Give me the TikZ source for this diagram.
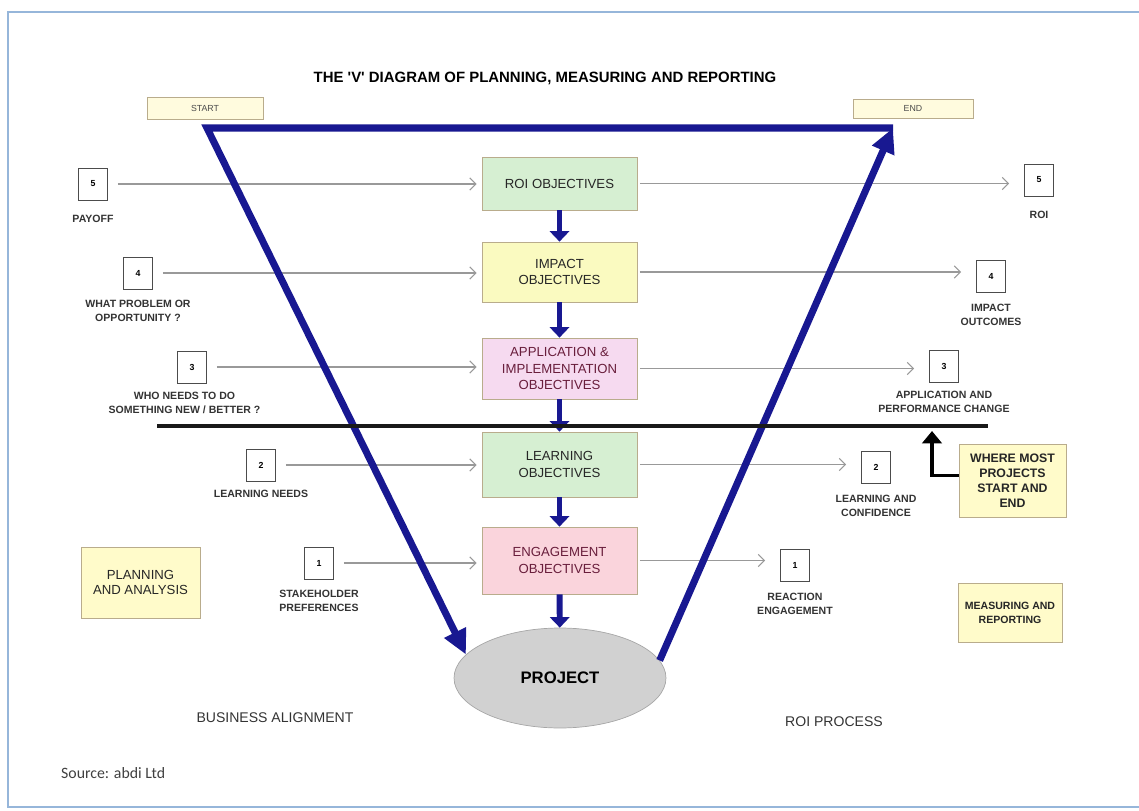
\documentclass[tikz,border=0pt]{standalone}
\usepackage{fontspec}
\setmainfont{Liberation Sans}
\newfontfamily\srcfont{Carlito}
\usetikzlibrary{arrows.meta,positioning,shapes.geometric}
\definecolor{vblue}{RGB}{24,24,145}
\definecolor{objgreen}{RGB}{214,239,210}
\definecolor{objyellow}{RGB}{250,250,192}
\definecolor{objlilac}{RGB}{246,218,240}
\definecolor{objpink}{RGB}{250,212,220}
\definecolor{notefill}{RGB}{255,251,202}
\definecolor{tagfill}{RGB}{255,251,222}
\definecolor{boxedge}{RGB}{185,172,140}
\definecolor{frameblue}{RGB}{150,182,218}
\definecolor{maroon}{RGB}{105,30,60}
\begin{document}
\begin{tikzpicture}[x=0.02cm, y=-0.02cm,
	obj/.style={draw=boxedge, minimum width=3.1cm, align=center, text=black!85, font=\fontsize{7.5}{9.5}\selectfont},
	numbox/.style={draw=black!70, minimum width=0.58cm, minimum height=0.64cm, inner sep=0pt, font=\fontsize{5}{6}\selectfont\bfseries},
	lbl/.style={align=center, text=black!80, font=\fontsize{6}{7.5}\selectfont\bfseries},
	tag/.style={draw=boxedge, fill=tagfill, inner sep=0pt, text=black!70, font=\fontsize{5}{6}\selectfont},
	note/.style={draw=boxedge, fill=notefill, align=center, inner sep=1pt, text=black!85},
	feed/.style={-{Straight Barb[length=3.5pt,width=7pt]}, black!40, line width=0.6pt},
	vline/.style={vblue, line width=4pt, line join=miter, -{Triangle[length=14pt,width=13pt]}},
	down/.style={vblue, line width=3.4pt, -{Triangle[length=6pt,width=11pt]}},
	plain/.style={text=black!80, font=\fontsize{8}{10}\selectfont}]
	\useasboundingbox (0,0) rectangle (1139,811);
	\draw[frameblue, line width=0.8pt] (1139,12) -- (8,12) -- (8,807) -- (1139,807);

	\node[font=\fontsize{8.5}{10}\selectfont\bfseries] (title) at (545,78) {THE \textquotesingle V\textquotesingle\ DIAGRAM OF PLANNING, MEASURING AND REPORTING};
	\node[tag, minimum width=2.32cm, minimum height=0.44cm] (start) at (205,108) {START};
	\node[tag, minimum width=2.4cm, minimum height=0.38cm] (end) at (913,108.5) {END};

	\node[obj, fill=objgreen, minimum height=1.06cm] (roi) at (559.5,183.5) {ROI OBJECTIVES};
	\node[obj, fill=objyellow, minimum height=1.2cm] (impact) at (559.5,272) {IMPACT\\OBJECTIVES};
	\node[obj, fill=objlilac, minimum height=1.22cm, text=maroon] (appl) at (559.5,368.5) {APPLICATION \&\\IMPLEMENTATION\\OBJECTIVES};
	\node[obj, fill=objgreen, minimum height=1.3cm] (learn) at (559.5,464.5) {LEARNING\\OBJECTIVES};
	\node[obj, fill=objpink, minimum height=1.34cm, text=maroon] (engage) at (559.5,560.5) {ENGAGEMENT\\OBJECTIVES};
	\node[ellipse, draw=black!35, fill=black!18, minimum width=4.24cm, minimum height=2cm, font=\fontsize{9.5}{11}\selectfont\bfseries] (project) at (560,678) {PROJECT};

	\node[numbox] (l5) at (93,184) {5};
	\node[numbox] (l4) at (138,273) {4};
	\node[numbox] (l3) at (192,367) {3};
	\node[numbox] (l2) at (261,465) {2};
	\node[numbox] (l1) at (319,563) {1};
	\node[lbl, below=0.17cm of l5] (payoff) {PAYOFF};
	\node[lbl, below=0.1cm of l4] (problem) {WHAT PROBLEM OR\\OPPORTUNITY ?};
	\node[lbl, below=0.06cm of l3, xshift=-0.15cm] (needs) {WHO NEEDS TO DO\\SOMETHING NEW / BETTER ?};
	\node[lbl, below=0.06cm of l2] (lneeds) {LEARNING NEEDS};
	\node[lbl, below=0.1cm of l1] (prefs) {STAKEHOLDER\\PREFERENCES};

	\node[numbox] (r5) at (1039,180) {5};
	\node[numbox] (r4) at (991,276) {4};
	\node[numbox] (r3) at (944,366) {3};
	\node[numbox] (r2) at (876,467) {2};
	\node[numbox] (r1) at (795,565) {1};
	\node[lbl, below=0.17cm of r5] (roiout) {ROI};
	\node[lbl, below=0.12cm of r4] (impout) {IMPACT\\OUTCOMES};
	\node[lbl, below=0.06cm of r3] (perf) {APPLICATION AND\\PERFORMANCE CHANGE};
	\node[lbl, below=0.12cm of r2] (conf) {LEARNING AND\\CONFIDENCE};
	\node[lbl, below=0.12cm of r1] (react) {REACTION\\ENGAGEMENT};

	\node[note, minimum width=2.38cm, minimum height=1.42cm, font=\fontsize{7.5}{9}\selectfont] (planning) at (140.5,582.5) {PLANNING\\AND ANALYSIS};
	\node[note, minimum width=2.14cm, minimum height=1.46cm, font=\fontsize{7}{8.5}\selectfont\bfseries] (where) at (1012.5,480.5) {WHERE MOST\\PROJECTS\\START AND\\END};
	\node[note, minimum width=2.08cm, minimum height=1.18cm, font=\fontsize{6}{8}\selectfont\bfseries] (measuring) at (1010,612.5) {MEASURING AND\\REPORTING};

	\node[plain] (align) at (275,718) {BUSINESS ALIGNMENT};
	\node[plain] (process) at (834,722) {ROI PROCESS};
	\node[anchor=west, text=black!75, font=\srcfont\fontsize{9}{11}\selectfont] (source) at (55,773) {Source: abdi Ltd};

	\path[feed, shorten <=0.2cm, shorten >=0.1cm]
		(l5.east) edge (l5.east -| roi.west)
		(l4.east) edge (l4.east -| impact.west)
		(l3.east) edge (l3.east -| appl.west)
		(l2.east) edge (l2.east -| learn.west)
		(l1.east) edge (l1.east -| engage.west)
	;
	\path[feed, shorten <=0.05cm, shorten >=0.3cm]
		(roi.east) edge (roi.east -| r5.west)
		(impact.east) edge (impact.east -| r4.west)
		(appl.east) edge (appl.east -| r3.west)
		(learn.east) edge (learn.east -| r2.west)
		(engage.east) edge (engage.east -| r1.west)
	;
	\path[down]
		(roi) edge (impact)
		(impact) edge (appl)
		(appl) edge (learn)
		(learn) edge (engage)
		(engage) edge (project)
	;

	\coordinate (vleft) at (207,128);
	\coordinate (vright) at (893,128);
	\draw[vline] (vright) -- (vleft) -- (project.166);
	\draw[vline] (project.10) -- (vright);

	\coordinate (divleft) at (157,426);
	\coordinate (divright) at (988,426);
	\coordinate (divtip) at (932,431);
	\draw[black!90, line width=1.8pt] (divleft) -- (divright);
	\draw[line width=2.2pt, line join=miter, -{Triangle[length=7pt,width=11pt]}] ([yshift=0.1cm]where.west) -| (divtip);
\end{tikzpicture}
\end{document}
